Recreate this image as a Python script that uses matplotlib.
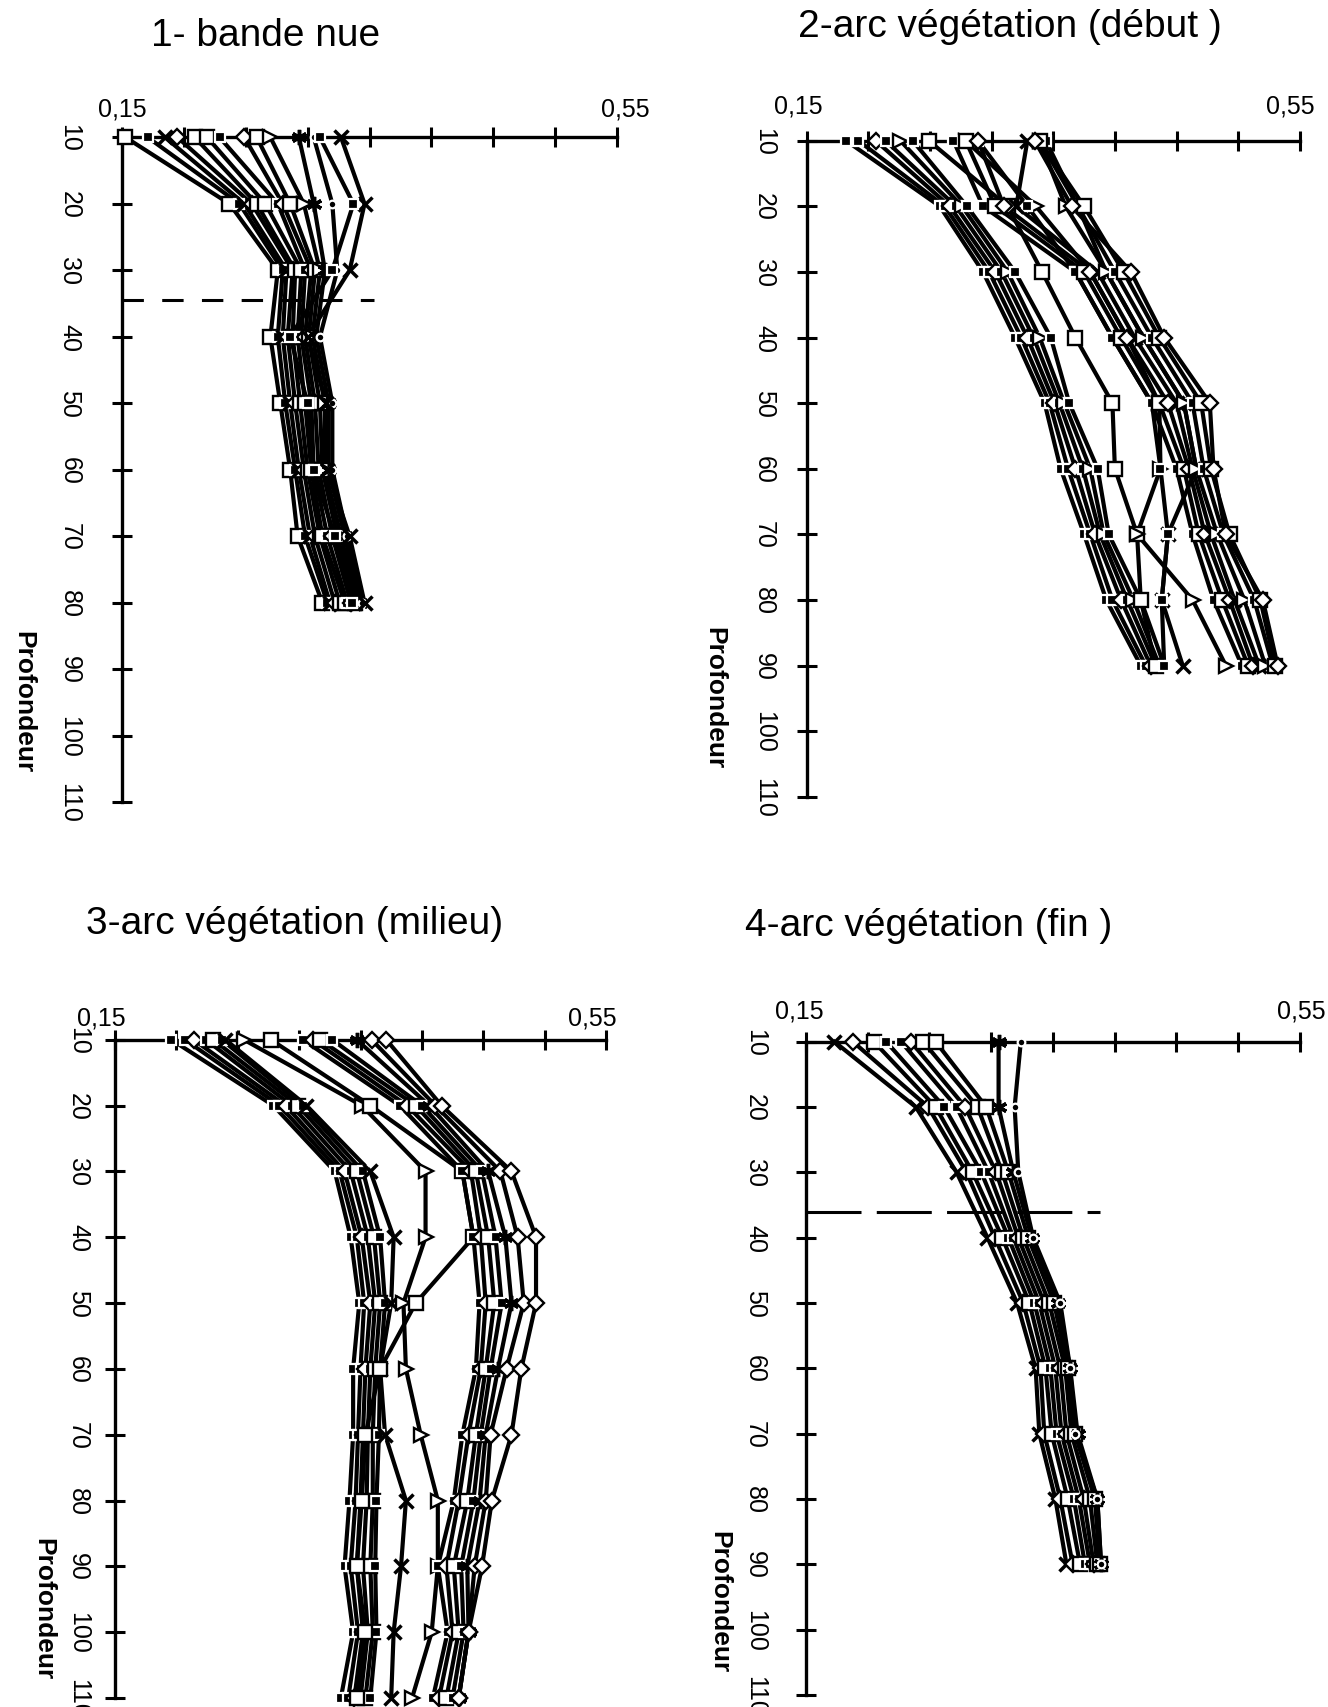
import matplotlib
matplotlib.use("Agg")
import matplotlib.pyplot as plt
from matplotlib.transforms import ScaledTranslation

plt.rcParams['font.family'] = ['Liberation Sans', 'DejaVu Sans']

# ---------------- data ----------------
x_ticks = [0.15, 0.20, 0.25, 0.30, 0.35, 0.40, 0.45, 0.50, 0.55]
x_ticklabels = ['0,15', '', '', '', '', '', '', '', '0,55']
depth_ticks = [10, 20, 30, 40, 50, 60, 70, 80, 90, 100, 110]
depth_ticklabels = ['10', '20', '30', '40', '50', '60', '70', '80', '90', '100', '110']
titles = ['1- bande nue', '2-arc végétation (début )',
          '3-arc végétation (milieu)', '4-arc végétation (fin )']
ylabel = 'Profondeur'

# panel 1 : bande nue
p1_depth = [10, 20, 30, 40, 50, 60, 70, 80]
p1_theta = [
    [0.153, 0.237, 0.276, 0.270, 0.278, 0.286, 0.292, 0.312],
    [0.171, 0.245, 0.280, 0.276, 0.282, 0.290, 0.298, 0.316],
    [0.185, 0.249, 0.283, 0.280, 0.286, 0.293, 0.302, 0.318],
    [0.195, 0.255, 0.288, 0.284, 0.290, 0.297, 0.306, 0.322],
    [0.209, 0.259, 0.290, 0.288, 0.294, 0.300, 0.310, 0.326],
    [0.219, 0.266, 0.295, 0.292, 0.298, 0.303, 0.312, 0.330],
    [0.229, 0.276, 0.298, 0.295, 0.303, 0.305, 0.316, 0.332],
    [0.249, 0.280, 0.303, 0.298, 0.306, 0.309, 0.320, 0.335],
    [0.259, 0.286, 0.306, 0.301, 0.310, 0.312, 0.324, 0.338],
    [0.270, 0.297, 0.310, 0.304, 0.314, 0.314, 0.327, 0.340],
    [0.293, 0.305, 0.314, 0.307, 0.317, 0.317, 0.330, 0.342],
    [0.305, 0.320, 0.324, 0.310, 0.320, 0.320, 0.332, 0.344],
    [0.327, 0.346, 0.334, 0.300, 0.315, 0.316, 0.334, 0.346],
    [0.310, 0.337, 0.320, 0.286, 0.300, 0.305, 0.322, 0.336],
]
p1_marks = ['s', 'f', 'x', 'D', 's', 's', 'f', 'D', 's', '>', '*', '.', 'x', 'f']
p1_limit = (34.5, 0.354)

# panel 2 : arc végétation (début)
p2_depth = [10, 20, 30, 40, 50, 60, 70, 80, 90]
p2_theta = [
    [0.182, 0.258, 0.293, 0.319, 0.343, 0.356, 0.375, 0.393, 0.421],
    [0.192, 0.262, 0.298, 0.324, 0.347, 0.362, 0.380, 0.398, 0.425],
    [0.206, 0.266, 0.303, 0.329, 0.351, 0.368, 0.384, 0.405, 0.429],
    [0.214, 0.271, 0.308, 0.334, 0.355, 0.374, 0.388, 0.410, 0.433],
    [0.226, 0.276, 0.313, 0.339, 0.359, 0.380, 0.391, 0.415, 0.436],
    [0.236, 0.280, 0.319, 0.348, 0.363, 0.386, 0.395, 0.421, 0.440],
    [0.249, 0.313, 0.341, 0.368, 0.398, 0.400, 0.418, 0.421, 0.433],
    [0.279, 0.336, 0.380, 0.410, 0.436, 0.437, 0.418, 0.463, 0.490],
    [0.339, 0.370, 0.393, 0.423, 0.456, 0.466, 0.443, 0.438, 0.455],
    [0.289, 0.329, 0.368, 0.398, 0.430, 0.437, 0.443, 0.438, 0.440],
    [0.269, 0.293, 0.368, 0.398, 0.430, 0.450, 0.463, 0.480, 0.503],
    [0.279, 0.303, 0.375, 0.405, 0.436, 0.456, 0.468, 0.487, 0.508],
    [0.289, 0.310, 0.380, 0.410, 0.443, 0.460, 0.473, 0.493, 0.512],
    [0.329, 0.320, 0.386, 0.416, 0.450, 0.463, 0.478, 0.497, 0.517],
    [0.339, 0.360, 0.393, 0.423, 0.456, 0.466, 0.483, 0.505, 0.522],
    [0.344, 0.370, 0.400, 0.430, 0.463, 0.472, 0.488, 0.513, 0.528],
    [0.339, 0.375, 0.407, 0.436, 0.470, 0.478, 0.493, 0.518, 0.530],
    [0.335, 0.365, 0.413, 0.440, 0.477, 0.480, 0.490, 0.520, 0.532],
]
p2_marks = ['f', 'f', 'D', 'f', '>', 'f', 's', '>', 'x', 'f',
            'f', 's', 'D', 'x', '>', 'f', 's', 'D']

# panel 3 : arc végétation (milieu)
p3_depth = [10, 20, 30, 40, 50, 60, 70, 80, 90, 100, 110]
p3_theta = [
    [0.196, 0.279, 0.329, 0.342, 0.349, 0.344, 0.344, 0.341, 0.337, 0.344, 0.334],
    [0.207, 0.284, 0.333, 0.347, 0.353, 0.350, 0.348, 0.346, 0.342, 0.348, 0.340],
    [0.214, 0.289, 0.337, 0.351, 0.358, 0.354, 0.352, 0.350, 0.347, 0.352, 0.345],
    [0.224, 0.294, 0.342, 0.356, 0.362, 0.358, 0.356, 0.355, 0.352, 0.356, 0.350],
    [0.230, 0.299, 0.347, 0.361, 0.366, 0.362, 0.360, 0.360, 0.358, 0.360, 0.354],
    [0.237, 0.303, 0.352, 0.366, 0.370, 0.366, 0.365, 0.363, 0.362, 0.363, 0.358],
    [0.240, 0.306, 0.358, 0.377, 0.375, 0.366, 0.370, 0.387, 0.383, 0.377, 0.375],
    [0.255, 0.351, 0.403, 0.403, 0.385, 0.387, 0.399, 0.413, 0.413, 0.408, 0.392],
    [0.277, 0.358, 0.433, 0.442, 0.395, 0.366, 0.354, 0.351, 0.347, 0.354, 0.347],
    [0.303, 0.382, 0.433, 0.442, 0.447, 0.444, 0.433, 0.426, 0.413, 0.421, 0.409],
    [0.311, 0.388, 0.440, 0.448, 0.452, 0.448, 0.438, 0.430, 0.420, 0.425, 0.414],
    [0.317, 0.395, 0.444, 0.454, 0.459, 0.452, 0.444, 0.437, 0.426, 0.430, 0.420],
    [0.327, 0.400, 0.449, 0.460, 0.465, 0.456, 0.448, 0.442, 0.432, 0.434, 0.425],
    [0.347, 0.406, 0.454, 0.468, 0.473, 0.462, 0.452, 0.447, 0.437, 0.438, 0.430],
    [0.359, 0.411, 0.464, 0.478, 0.483, 0.469, 0.456, 0.452, 0.443, 0.438, 0.430],
    [0.371, 0.416, 0.473, 0.493, 0.493, 0.481, 0.473, 0.457, 0.449, 0.438, 0.430],
]
p3_marks = ['f', 'f', 'D', 'f', 's', 'f', 'x', '>', 's',
            'f', 'D', 's', 'f', '*', 'D', 'D']

# panel 4 : arc végétation (fin)
p4_depth = [10, 20, 30, 40, 50, 60, 70, 80, 90]
p4_theta = [
    [0.173, 0.239, 0.272, 0.297, 0.321, 0.336, 0.339, 0.352, 0.361],
    [0.188, 0.249, 0.280, 0.303, 0.326, 0.340, 0.343, 0.356, 0.366],
    [0.205, 0.255, 0.285, 0.309, 0.331, 0.344, 0.349, 0.362, 0.372],
    [0.215, 0.262, 0.292, 0.314, 0.335, 0.348, 0.353, 0.367, 0.376],
    [0.227, 0.272, 0.298, 0.318, 0.339, 0.352, 0.357, 0.371, 0.380],
    [0.235, 0.279, 0.304, 0.322, 0.343, 0.356, 0.361, 0.375, 0.383],
    [0.245, 0.289, 0.309, 0.326, 0.347, 0.360, 0.365, 0.380, 0.386],
    [0.255, 0.296, 0.314, 0.330, 0.351, 0.362, 0.368, 0.384, 0.388],
    [0.306, 0.306, 0.318, 0.333, 0.354, 0.364, 0.370, 0.386, 0.389],
    [0.324, 0.319, 0.322, 0.334, 0.356, 0.364, 0.368, 0.386, 0.389],
]
p4_marks = ['x', 'D', 's', 'f', 'f', 'D', 's', 's', '*', '.']
p4_limit = (36.0, 0.388)

# ---------------- styles ----------------
MARKERS = {
    's': dict(marker='s', markersize=9.5, markerfacecolor='white', markeredgecolor='k', markeredgewidth=1.7),
    'f': dict(marker='s', markersize=7, markerfacecolor='k', markeredgecolor='white', markeredgewidth=1.6),
    'D': dict(marker='D', markersize=8.5, markerfacecolor='white', markeredgecolor='k', markeredgewidth=1.7),
    '>': dict(marker='>', markersize=10, markerfacecolor='white', markeredgecolor='k', markeredgewidth=1.7),
    'x': dict(marker='x', markersize=10, markeredgecolor='k', markeredgewidth=2.5),
    '*': dict(marker=(6, 2, 0), markersize=11, markeredgecolor='k', markeredgewidth=2.5),
    '.': dict(marker='o', markersize=5.5, markerfacecolor='k', markeredgecolor='white', markeredgewidth=1.6),
}

W, H = 1328, 1708
fig = plt.figure(figsize=(W / 100, H / 100), dpi=100)


def rect(l, r, t, b):
    return [l / W, 1 - b / H, (r - l) / W, (b - t) / H]


panels = [
    dict(rect=rect(121.7, 617.3, 138.3, 803.3), depth=p1_depth, theta=p1_theta, marks=p1_marks,
         limit=p1_limit, dash=(7, 6), xpad=5, ypad=22, xoff=(1, 8),
         title=(266, 36), prof=(23, 702)),
    dict(rect=rect(806.7, 1299.8, 141.7, 797.7), depth=p2_depth, theta=p2_theta, marks=p2_marks,
         limit=None, dash=None, xpad=10, ypad=15, xoff=(-8, -9),
         title=(1010, 27), prof=(714, 698)),
    dict(rect=rect(115.0, 606.0, 1040.7, 1699.0), depth=p3_depth, theta=p3_theta, marks=p3_marks,
         limit=None, dash=None, xpad=0, ypad=11, xoff=(-14, -14),
         title=(295, 924), prof=(43, 1609)),
    dict(rect=rect(806.0, 1299.8, 1042.7, 1696.0), depth=p4_depth, theta=p4_theta, marks=p4_marks,
         limit=p4_limit, dash=(18, 5), xpad=7, ypad=21, xoff=(-7, 2),
         title=(929, 926), prof=(719, 1602)),
]

for i, P in enumerate(panels):
    ax = fig.add_axes(P['rect'])
    ax.set_xlim(x_ticks[0], x_ticks[-1])
    ax.set_ylim(110, 10)
    for side in ('right', 'bottom'):
        ax.spines[side].set_visible(False)
    for side in ('top', 'left'):
        ax.spines[side].set_linewidth(2.4)
    ax.xaxis.tick_top()
    ax.set_xticks(x_ticks)
    ax.set_xticklabels(x_ticklabels)
    ax.set_yticks(depth_ticks)
    ax.set_yticklabels(depth_ticklabels)
    ax.tick_params(axis='x', direction='inout', length=14, width=2.2, top=True, bottom=False,
                   labeltop=True, labelbottom=False, labelsize=18, pad=P['xpad'])
    ax.tick_params(axis='y', direction='inout', length=14, width=2.2, labelsize=18,
                   labelrotation=270, pad=P['ypad'])
    for lab in ax.get_yticklabels():
        lab.set_va('center')
    xlabs = ax.get_xticklabels(which='major')
    ticks = ax.xaxis.get_major_ticks()
    for t, off in ((ticks[0], P['xoff'][0]), (ticks[-1], P['xoff'][1])):
        t.label2.set_transform(t.label2.get_transform() +
                               ScaledTranslation(off / 100, 0, fig.dpi_scale_trans))
    ax.patch.set_visible(False)

    # profiles: lines first, then markers on top
    for th in P['theta']:
        ax.plot(th, P['depth'], color='k', lw=3.0, zorder=2, clip_on=False,
                solid_joinstyle='miter')
    for th, m in zip(P['theta'], P['marks']):
        ax.plot(th, P['depth'], linestyle='none', zorder=3, clip_on=False, **MARKERS[m])

    if P['limit'] is not None:
        d, xe = P['limit']
        ax.plot([x_ticks[0], xe], [d, d], color='k', lw=2.2, dashes=P['dash'], zorder=1.5,
                clip_on=False)

    tx, ty = P['title']
    fig.text(tx / W, 1 - ty / H, titles[i], ha='center', va='center', fontsize=28)
    px, py = P['prof']
    fig.text(px / W, 1 - py / H, ylabel, ha='center', va='center', rotation=270,
             fontsize=19, fontweight='bold')

fig.savefig('out.png', dpi=100, facecolor='white')
